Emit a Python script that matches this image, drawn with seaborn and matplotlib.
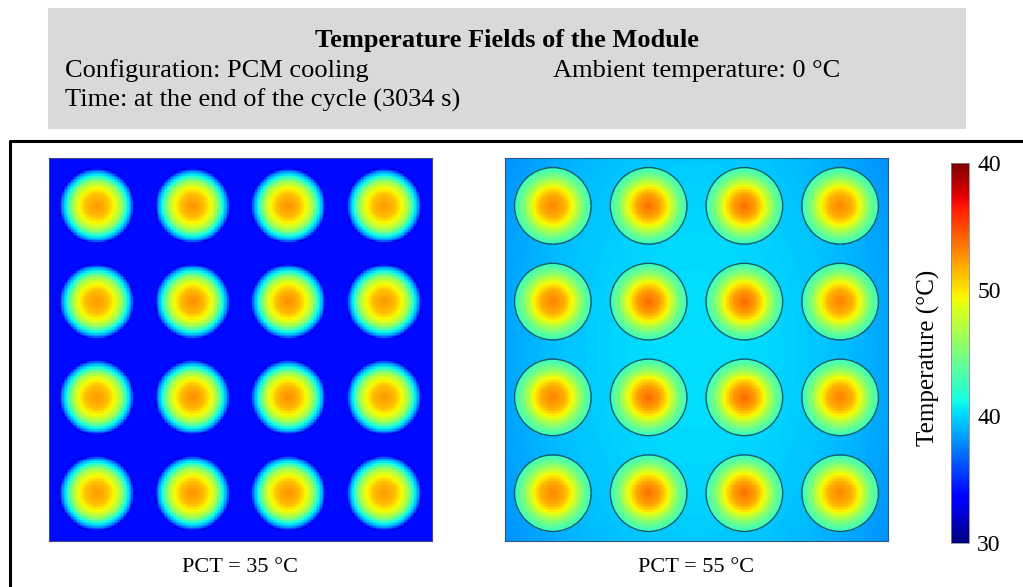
import numpy as np
import pandas as pd
import seaborn as sns
import matplotlib.pyplot as plt
from matplotlib.patches import Rectangle, Circle
from matplotlib.lines import Line2D
from matplotlib.cm import ScalarMappable
from matplotlib.colors import Normalize

# ---- module geometry (mm) ----
module_size = 92.0          # square module side
cell_pitch = 23.0           # cell centre spacing
cell_radius = 9.2           # cell radius
n_rows, n_cols = 4, 4
grid_n = 260                # field resolution per side

# ---- temperature field data (deg C) ----
pct_labels = ["PCT = 35 \u00b0C", "PCT = 55 \u00b0C"]

# PCT = 35 case: uniform PCM background, radial profile inside each cell
bg_35 = 34.0
r_knots_35 = [0.00, 0.30, 0.50, 0.65, 0.78, 0.88, 0.94, 1.00]
t_knots_35 = [52.5, 51.2, 48.8, 46.0, 41.5, 38.6, 35.8, 32.0]
core_35 = [[52.4, 52.7, 52.7, 52.4],
           [52.5, 52.9, 52.9, 52.5],
           [52.5, 52.9, 52.9, 52.5],
           [52.4, 52.7, 52.7, 52.4]]

# PCT = 55 case: warmer PCM, cooler towards the module walls
bg_55_mid = 40.3
bg_55_drop_x = 1.7
bg_55_drop_y = 0.6
r_knots_55 = [0.00, 0.30, 0.50, 0.65, 0.80, 1.00]
t_knots_55 = [53.5, 52.0, 49.5, 47.0, 44.6, 42.4]
core_55 = [[53.0, 53.8, 53.8, 53.0],
           [53.1, 54.0, 54.0, 53.1],
           [53.1, 54.0, 54.0, 53.1],
           [53.0, 53.8, 53.8, 53.0]]

# ---- colour scale ----
t_min, t_max = 30.0, 60.0
cbar_ticks = [30, 40, 50, 60]
cbar_ticklabels = ["30", "40", "50", "40"]

coords = (np.arange(grid_n) + 0.5) * module_size / grid_n
Xg, Yg = np.meshgrid(coords, coords)


def build_field(bg, r_knots, t_knots, cores):
    field = np.array(bg, dtype=float) * np.ones_like(Xg)
    for i in range(n_rows):
        for j in range(n_cols):
            cx = (j + 0.5) * cell_pitch
            cy = (i + 0.5) * cell_pitch
            r = np.hypot(Xg - cx, Yg - cy) / cell_radius
            inside = r <= 1.0
            # base radial profile, shifted near the core for each cell
            prof = np.interp(r, r_knots, t_knots)
            prof += (cores[i][j] - t_knots[0]) * np.clip(1 - r, 0, 1) ** 2
            field[inside] = prof[inside]
    return field


bg55 = (bg_55_mid
        - bg_55_drop_x * (2 * Xg / module_size - 1) ** 2
        - bg_55_drop_y * (2 * Yg / module_size - 1) ** 2)

fields = [build_field(bg_35, r_knots_35, t_knots_35, core_35),
          build_field(bg55, r_knots_55, t_knots_55, core_55)]

# ---- figure ----
W, H = 1023, 587
fig = plt.figure(figsize=(W / 100, H / 100), dpi=100)
serif = ["Liberation Serif", "DejaVu Serif"]


def fx(px):
    return px / W


def fy(py):
    return 1 - py / H


# header band
fig.add_artist(Rectangle((fx(48), fy(129)), fx(966) - fx(48), fy(8) - fy(129),
                         transform=fig.transFigure, facecolor="#d9d9d9",
                         edgecolor="none", zorder=0))
fig.text(fx(507), fy(40), "Temperature Fields of the Module", ha="center",
         va="center", fontsize=19, fontweight="bold", family=serif)
fig.text(fx(65), fy(71), "Configuration: PCM cooling", ha="left", va="center",
         fontsize=19, family=serif)
fig.text(fx(553), fy(71), "Ambient temperature: 0 \u00b0C", ha="left",
         va="center", fontsize=19, family=serif)
fig.text(fx(65), fy(100), "Time: at the end of the cycle (3034 s)", ha="left",
         va="center", fontsize=19, family=serif)

# frame around the result panels
fig.add_artist(Line2D([fx(10), fx(10), 1.0], [0.0, fy(141), fy(141)],
                      transform=fig.transFigure, color="black", lw=2.2))

cmap = plt.get_cmap("jet")
panel_left = [49, 505]
panel_top, panel_size = 158, 383

for k, field in enumerate(fields):
    ax = fig.add_axes([fx(panel_left[k]), fy(panel_top + panel_size),
                       panel_size / W, panel_size / H])
    sns.heatmap(pd.DataFrame(field), ax=ax, cmap=cmap, vmin=t_min, vmax=t_max,
                cbar=False, xticklabels=False, yticklabels=False,
                rasterized=True)
    if k == 1:
        scale = grid_n / module_size
        for i in range(n_rows):
            for j in range(n_cols):
                ax.add_patch(Circle(((j + 0.5) * cell_pitch * scale,
                                     (i + 0.5) * cell_pitch * scale),
                                    cell_radius * scale, fill=False,
                                    edgecolor="#1f4f5a", lw=1.0, alpha=0.9))
    for sp in ax.spines.values():
        sp.set_visible(True)
        sp.set_color("#3a4a80" if k == 0 else "#2a5a80")
        sp.set_linewidth(0.8)
    ax.set_xlabel("")
    ax.set_ylabel("")
    fig.text(fx(panel_left[k] + panel_size / 2), fy(567), pct_labels[k],
             ha="center", va="center", fontsize=16, family=serif)

# colour bar
cax = fig.add_axes([fx(951), fy(543), fx(969) - fx(951), fy(163) - fy(543)])
sm = ScalarMappable(norm=Normalize(t_min, t_max), cmap=cmap)
cb = fig.colorbar(sm, cax=cax, ticks=cbar_ticks)
cb.ax.set_yticklabels(cbar_ticklabels, family=serif, fontsize=17)
cb.ax.tick_params(length=0, pad=6)
cb.outline.set_edgecolor("#888888")
cb.outline.set_linewidth(0.6)
fig.text(fx(928), fy(358), "Temperature (\u00b0C)", rotation=90, ha="center",
         va="center", fontsize=18, family=serif)

fig.savefig("out.png", dpi=100)
